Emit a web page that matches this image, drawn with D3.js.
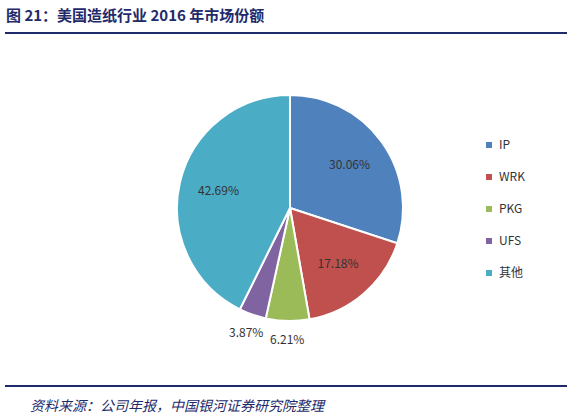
<!doctype html>
<html lang="en">
<head>
<meta charset="utf-8">
<style>
  * { margin: 0; padding: 0; }
  body { background: #fff; width: 572px; height: 417px; overflow: hidden; }
  text { font-family: "Noto Sans CJK SC", "Open Sans", sans-serif; }
</style>
</head>
<body>
<div id="chart"></div>
<script src="https://d3js.org/d3.v7.min.js"></script>
<script>
  var categories = ["IP", "WRK", "PKG", "UFS", "其他"];
  var values = [30.06, 17.18, 6.21, 3.87, 42.69];
  var labels = ["30.06%", "17.18%", "6.21%", "3.87%", "42.69%"];
  var colors = ["#4f81bd", "#c0504d", "#9bbb59", "#8064a2", "#4bacc6"];

  var width = 572, height = 417;
  var cx = 290, cy = 208, r = 113;

  var svg = d3.select("#chart").append("svg").attr("width", width).attr("height", height);

  // title and rules
  svg.append("text").attr("x", 6).attr("y", 21)
    .style("font-size", "15px").style("font-weight", "bold").style("fill", "#1f2a6b")
    .text("图 21：美国造纸行业 2016 年市场份额");
  svg.append("line").attr("x1", 5).attr("x2", 567).attr("y1", 33).attr("y2", 33)
    .style("stroke", "#1f2a6b").style("stroke-width", 2);
  svg.append("line").attr("x1", 5).attr("x2", 567).attr("y1", 386).attr("y2", 386)
    .style("stroke", "#1f2a6b").style("stroke-width", 2);
  svg.append("text").attr("x", 30).attr("y", 411)
    .style("font-size", "14px").style("font-style", "italic").style("fill", "#1f2a6b")
    .text("资料来源：公司年报，中国银河证券研究院整理");

  var pie = d3.pie().sort(null).value(d => d);
  var arcs = pie(values);
  var arc = d3.arc().innerRadius(0).outerRadius(r);
  var g = svg.append("g").attr("transform", "translate(" + cx + "," + cy + ")");

  g.selectAll("path").data(arcs).enter().append("path")
    .attr("d", arc)
    .style("fill", (d, i) => colors[i])
    .style("stroke", "#fff").style("stroke-width", 2);

  var inner = d3.arc().innerRadius(r * 0.65).outerRadius(r * 0.65);
  var outer = d3.arc().innerRadius(r * 1.17).outerRadius(r * 1.17);
  g.selectAll(".lbl").data(arcs).enter().append("text")
    .attr("class", "lbl")
    .attr("transform", (d, i) => "translate(" + (values[i] < 10 ? outer : inner).centroid(d) + ")")
    .attr("text-anchor", "middle").attr("dy", "0.35em")
    .style("font-size", "12px").style("fill", "#333")
    .text((d, i) => labels[i]);

  var legend = svg.append("g");
  var ly = d3.scalePoint().domain(categories).range([145, 273]);
  categories.forEach(function (c, i) {
    legend.append("rect").attr("x", 486).attr("y", ly(c) - 3).attr("width", 6).attr("height", 6)
      .style("fill", colors[i]);
    legend.append("text").attr("x", 499).attr("y", ly(c)).attr("dy", "0.35em")
      .style("font-size", "12px").style("fill", "#333").text(c);
  });
</script>
</body>
</html>
